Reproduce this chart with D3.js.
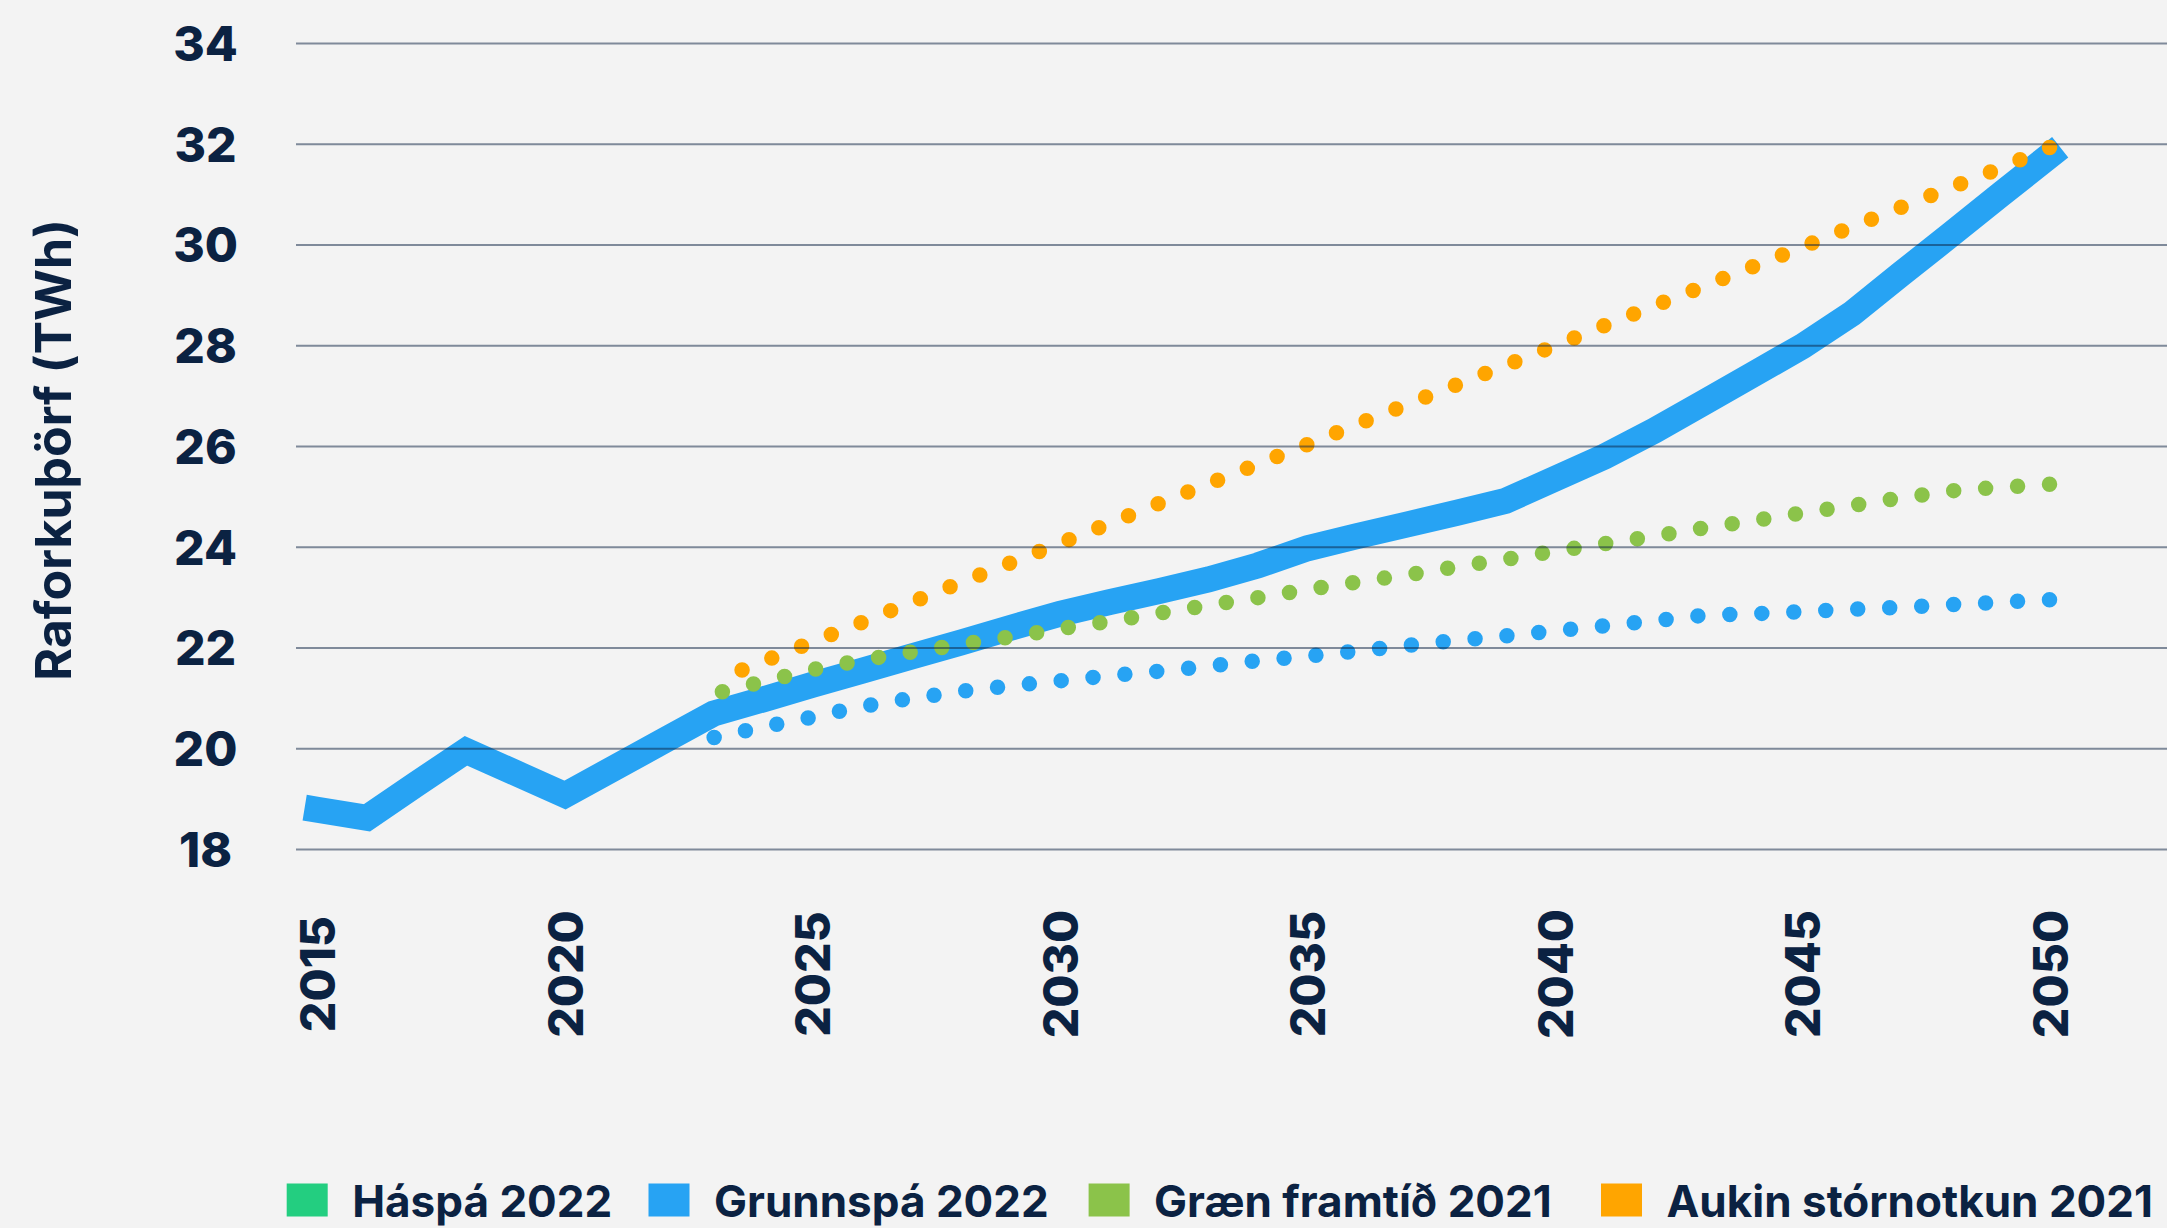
<!DOCTYPE html>
<html>
<head>
<meta charset="utf-8">
<script src="https://cdn.jsdelivr.net/npm/d3@7/dist/d3.min.js"></script>
<style>
  body { margin: 0; background: #f3f3f3; }
  svg { display: block; }
  text { font-family: Inter, "Noto Sans", sans-serif; fill: #0b2242; }
</style>
</head>
<body>
<script>
"use strict";

// years for the solid line (history + base forecast)
const years = [2015, 2016, 2017, 2018, 2019, 2020, 2021, 2022, 2023, 2024, 2025, 2026,
  2027, 2028, 2029, 2030, 2031, 2032, 2033, 2034, 2035, 2036, 2037, 2038,
  2039, 2040, 2041, 2042, 2043, 2044, 2045, 2046, 2047, 2048, 2049, 2050];
// Grunnspá 2022 (TWh)
const grunnspa = [18.78, 18.62, 19.29, 19.95, 19.51, 19.07, 19.61, 20.15, 20.69, 20.97, 21.26, 21.54,
  21.82, 22.10, 22.39, 22.67, 22.90, 23.12, 23.35, 23.63, 23.97, 24.21, 24.44, 24.67,
  24.91, 25.35, 25.79, 26.30, 26.86, 27.42, 27.98, 28.63, 29.42, 30.20, 30.99, 31.77];

// years for the dotted scenarios
const scenarioYears = [2023, 2024, 2025, 2026, 2027, 2028, 2029, 2030, 2031, 2032, 2033, 2034,
  2035, 2036, 2037, 2038, 2039, 2040, 2041, 2042, 2043, 2044, 2045, 2046, 2047, 2048, 2049, 2050];
const bluDotted = [20.21, 20.42, 20.62, 20.83, 20.99, 21.13, 21.24, 21.34, 21.44, 21.53, 21.63, 21.74,
  21.83, 21.93, 22.04, 22.14, 22.23, 22.33, 22.43, 22.53, 22.64, 22.67, 22.71, 22.76, 22.80, 22.85, 22.90, 22.95];
const graenFramtid = [21.08, 21.32, 21.56, 21.75, 21.91, 22.06, 22.21, 22.37, 22.52, 22.68, 22.84, 22.99,
  23.15, 23.30, 23.44, 23.60, 23.75, 23.91, 24.06, 24.21, 24.37, 24.52, 24.67, 24.82, 24.97, 25.11, 25.18, 25.24];
const aukinStornotkun = [21.33, 21.72, 22.11, 22.50, 22.90, 23.29, 23.68, 24.07, 24.46, 24.86, 25.25, 25.64,
  26.03, 26.43, 26.82, 27.21, 27.60, 27.99, 28.39, 28.78, 29.17, 29.56, 29.95, 30.35, 30.74, 31.13, 31.52, 31.93];

const xTicks = [2015, 2020, 2025, 2030, 2035, 2040, 2045, 2050];
const yTicks = [18, 20, 22, 24, 26, 28, 30, 32, 34];
const legendNames = ["Háspá 2022", "Grunnspá 2022", "Græn framtíð 2021", "Aukin stórnotkun 2021"];
const legendColors = ["#23ce80", "#27a3f3", "#8bc34a", "#ffa500"];

const W = 2167, H = 1228;
const plot = {left: 296, right: 2167, top: 43, bottom: 849};
const dotGap = 32;

const svg = d3.select("body").append("svg")
  .attr("width", W)
  .attr("height", H);

svg.append("rect").attr("width", W).attr("height", H).attr("fill", "#f3f3f3");

const xScale = d3.scaleLinear()
  .domain([2015, 2050])
  .range([317.5, 2050]);

const yScale = d3.scaleLinear()
  .domain([18, 34])
  .range([plot.bottom, plot.top]);

const line = d3.line()
  .x(d => xScale(d[0]))
  .y(d => yScale(d[1]));

// thick solid line
svg.append("path")
  .datum(d3.zip(years, grunnspa))
  .attr("d", line)
  .attr("fill", "none")
  .attr("stroke", "#27a3f3")
  .attr("stroke-width", 26)
  .attr("stroke-linecap", "square")
  .attr("stroke-linejoin", "miter");

// dotted scenario lines, dots lined up so one falls (just inside) the 2050 end
const dotted = [
  {values: bluDotted, color: "#27a3f3"},
  {values: graenFramtid, color: "#8bc34a"},
  {values: aukinStornotkun, color: "#ffa500"}
];
dotted.forEach(s => {
  const p = svg.append("path")
    .datum(d3.zip(scenarioYears, s.values))
    .attr("d", line)
    .attr("fill", "none")
    .attr("stroke", s.color)
    .attr("stroke-width", 15.5)
    .attr("stroke-linecap", "round")
    .attr("stroke-dasharray", "0 " + dotGap);
  const len = p.node().getTotalLength();
  p.attr("stroke-dashoffset", ((dotGap - (len % dotGap)) % dotGap) + 0.5);
});

// gridlines + y labels (drawn on top of the lines)
const yAxis = svg.append("g")
  .attr("transform", "translate(" + plot.left + ",0)")
  .call(d3.axisLeft(yScale).tickValues(yTicks).tickSize(-(plot.right - plot.left)));
yAxis.select(".domain").remove();
yAxis.selectAll(".tick line")
  .attr("stroke", "#0b2242")
  .attr("stroke-opacity", 0.5)
  .attr("stroke-width", 2);
yAxis.selectAll(".tick text")
  .attr("x", 205.5 - plot.left)
  .attr("dy", "0.36em")
  .attr("text-anchor", "middle")
  .style("font-size", "48px")
  .style("font-weight", 800)
  .style("fill", "#0b2242");

// x labels, rotated
const xAxis = svg.append("g")
  .attr("transform", "translate(0,974)")
  .call(d3.axisBottom(xScale).tickValues(xTicks).tickFormat(d3.format("d")).tickSize(0));
xAxis.select(".domain").remove();
xAxis.selectAll(".tick text")
  .attr("x", 0)
  .attr("y", 0)
  .attr("dy", "0.36em")
  .attr("transform", "rotate(-90)")
  .attr("text-anchor", "middle")
  .style("font-size", "48px")
  .style("font-weight", 800)
  .style("fill", "#0b2242");

// y title
svg.append("text")
  .attr("transform", "translate(70.5,450)rotate(-90)")
  .attr("text-anchor", "middle")
  .style("font-size", "50px")
  .style("font-weight", 700)
  .text("Raforkuþörf (TWh)");

// legend
const legendX = [286.7, 648.5, 1088.6, 1601];
const legend = svg.append("g").attr("transform", "translate(0,1200)");
legendNames.forEach((name, i) => {
  legend.append("rect")
    .attr("x", legendX[i])
    .attr("y", -16.5)
    .attr("width", 41)
    .attr("height", 33)
    .attr("fill", legendColors[i]);
  legend.append("text")
    .attr("x", legendX[i] + 41 + 24.5)
    .attr("y", 16.5)
    .style("font-size", "44px")
    .style("font-weight", 700)
    .text(name);
});
</script>
</body>
</html>
